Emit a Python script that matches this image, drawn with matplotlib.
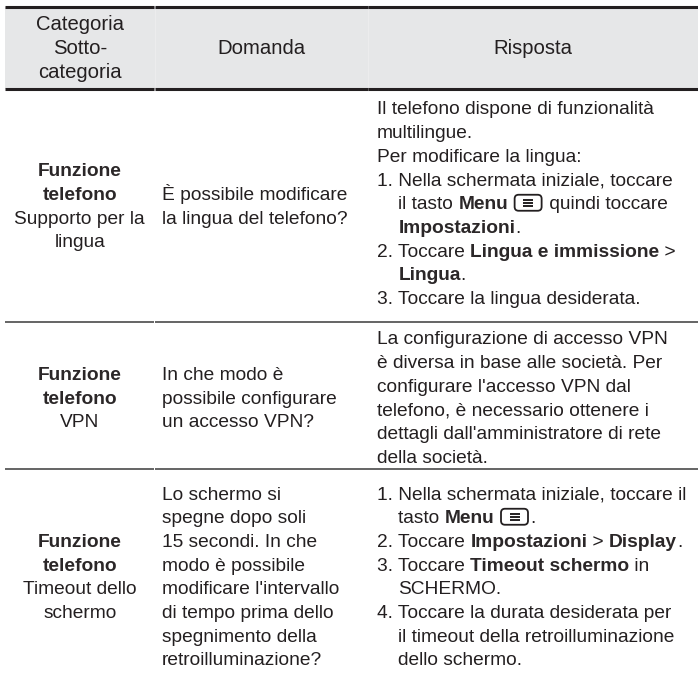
import re
import matplotlib
matplotlib.use("Agg")
import matplotlib.pyplot as plt
from matplotlib.font_manager import FontProperties
from matplotlib.patches import FancyBboxPatch, Rectangle

# ---------------- data ----------------
header_category = ["Categoria", "Sotto-", "categoria"]
header_question = "Domanda"
header_answer = "Risposta"

category_bold = [["Funzione", "telefono"], ["Funzione", "telefono"], ["Funzione", "telefono"]]
subcategory = [["Supporto per la", "lingua"], ["VPN"], ["Timeout dello", "schermo"]]

questions = [
    ["È possibile modificare", "la lingua del telefono?"],
    ["In che modo è", "possibile configurare", "un accesso VPN?"],
    ["Lo schermo si", "spegne dopo soli", "15 secondi. In che", "modo è possibile",
     "modificare l'intervallo", "di tempo prima dello", "spegnimento della",
     "retroilluminazione?"],
]

# '**' toggles bold, '[M]' is the Menu key icon, leading '\t' = hanging indent
answers = [
    ["Il telefono dispone di funzionalità",
     "multilingue.",
     "Per modificare la lingua:",
     "1. Nella schermata iniziale, toccare",
     "\til tasto **Menu** [M] quindi toccare",
     "\t**Impostazioni**.",
     "2. Toccare **Lingua e immissione** >",
     "\t**Lingua**.",
     "3. Toccare la lingua desiderata."],
    ["La configurazione di accesso VPN",
     "è diversa in base alle società. Per",
     "configurare l'accesso VPN dal",
     "telefono, è necessario ottenere i",
     "dettagli dall'amministratore di rete",
     "della società."],
    ["1. Nella schermata iniziale, toccare il",
     "\ttasto **Menu** [M].",
     "2. Toccare **Impostazioni** > **Display**.",
     "3. Toccare **Timeout schermo** in",
     "\tSCHERMO.",
     "4. Toccare la durata desiderata per",
     "\til timeout della retroilluminazione",
     "\tdello schermo."],
]

# ---------------- layout ----------------
W, H = 698, 676
fig = plt.figure(figsize=(W / 100, H / 100), dpi=100)
ax = fig.add_axes([0, 0, 1, 1])
ax.set_xlim(0, W)
ax.set_ylim(H, 0)
ax.axis("off")

FAM = "Liberation Sans"
FS = 13.8
TXT = "#231f20"
BOLD_TXT = "#2b2728"
fp_reg = FontProperties(family=FAM, size=FS)
fp_bold = FontProperties(family=FAM, size=FS, weight="bold")
fp_head = FontProperties(family=FAM, size=14.6)
renderer = fig.canvas.get_renderer()


def tw(s, fp):
    w1, _, _ = renderer.get_text_width_height_descent("|" + s + "|", fp, ismath=False)
    w2, _, _ = renderer.get_text_width_height_descent("||", fp, ismath=False)
    return w1 - w2


LEFT = 5
COL1 = 154.5
COL2 = 368
HEAD_TOP, HEAD_BOT = 6.5, 88.5
row_bounds = [88.5, 322, 469, 683]
LS = 23.7
BASE_OFF = 6.5  # baseline offset from visual line center

# header background
ax.add_patch(Rectangle((LEFT, HEAD_TOP), W - LEFT, HEAD_BOT - HEAD_TOP,
                       facecolor="#e6e7e8", edgecolor="none", zorder=0))


def hseg(y, lw, color):
    segs = [(LEFT, COL1 - 0.4), (COL1 + 0.4, COL2 - 0.4), (COL2 + 0.4, W)]
    for a, b in segs:
        ax.plot([a, b], [y, y], color=color, lw=lw, solid_capstyle="butt", zorder=3)


hseg(HEAD_TOP, 2.2, "#231f20")
hseg(HEAD_BOT, 2.2, "#231f20")
for x in (COL1, COL2):
    ax.plot([x, x], [HEAD_TOP + 1.5, HEAD_BOT - 1.5], color="#eeeeef", lw=0.6, zorder=2)
for y in row_bounds[1:3]:
    hseg(y, 1.1, "#3a3a3a")

# header text
hc = (HEAD_TOP + HEAD_BOT) / 2
c1x = (LEFT + COL1) / 2
for i, s in enumerate(header_category):
    y = hc + (i - (len(header_category) - 1) / 2) * LS
    ax.text(c1x, y + BASE_OFF, s, fontproperties=fp_head, color=TXT, ha="center", va="baseline")
ax.text((COL1 + COL2) / 2, hc + BASE_OFF, header_question, fontproperties=fp_head,
        color=TXT, ha="center", va="baseline")
ax.text((COL2 + W) / 2, hc + BASE_OFF, header_answer, fontproperties=fp_head,
        color=TXT, ha="center", va="baseline")


def menu_icon(x, base):
    w, h = 29, 16
    cy = base - 6.5
    ax.add_patch(FancyBboxPatch((x + 1, cy - h / 2), w - 2, h,
                                boxstyle="round,pad=0,rounding_size=4",
                                facecolor="white", edgecolor=TXT, lw=1.3, zorder=4))
    mx = x + w / 2
    for dy in (-2.8, 0, 2.8):
        ax.plot([mx - 5, mx + 5], [cy + dy, cy + dy], color=TXT, lw=1.4,
                solid_capstyle="butt", zorder=5)
    return w + 1


def draw_rich(x0, base, line):
    x = x0
    if line.startswith("\t"):
        x += tw("1. ", fp_reg)
        line = line[1:]
    bold = False
    for tok in re.split(r"(\*\*|\[M\])", line):
        if tok == "**":
            bold = not bold
        elif tok == "[M]":
            x += menu_icon(x, base)
        elif tok:
            fp = fp_bold if bold else fp_reg
            ax.text(x, base, tok, fontproperties=fp, color=BOLD_TXT if bold else TXT,
                    ha="left", va="baseline")
            x += tw(tok, fp)


Q_X = 162
A_X = 377
for r in range(3):
    top, bot = row_bounds[r], row_bounds[r + 1]
    rc = (top + bot) / 2 + (1.5 if r == 1 else 0)
    # column 1
    lines1 = [(s, fp_bold) for s in category_bold[r]] + [(s, fp_reg) for s in subcategory[r]]
    y0 = rc - (len(lines1) - 1) / 2 * LS
    for i, (s, fp) in enumerate(lines1):
        ax.text(c1x, y0 + i * LS + BASE_OFF, s, fontproperties=fp,
                color=BOLD_TXT if fp is fp_bold else TXT, ha="center", va="baseline")
    # column 2
    q = questions[r]
    y0 = rc - (len(q) - 1) / 2 * LS
    for i, s in enumerate(q):
        ax.text(Q_X, y0 + i * LS + BASE_OFF, s, fontproperties=fp_reg, color=TXT,
                ha="left", va="baseline")
    # column 3
    a = answers[r]
    y0 = rc - (len(a) - 1) / 2 * LS - (2.5 if r == 0 else 0)
    for i, s in enumerate(a):
        draw_rich(A_X, y0 + i * LS + BASE_OFF, s)

fig.savefig("out.png", dpi=100, facecolor="white")
